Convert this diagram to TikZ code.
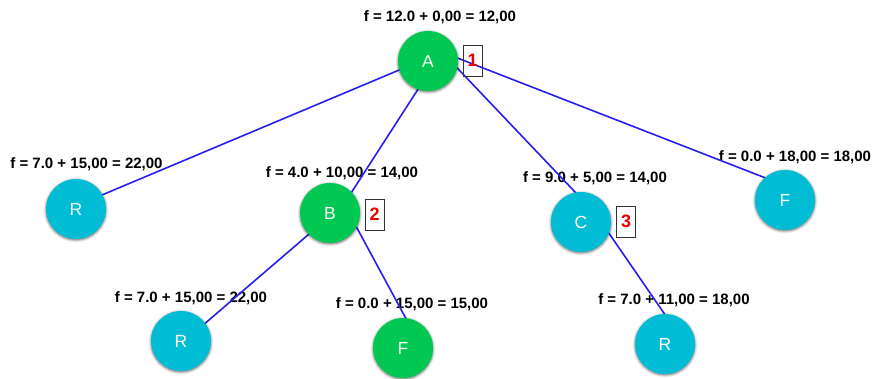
\documentclass[tikz,border=0pt]{standalone}
\usepackage{fontspec}
\setmainfont{Liberation Sans}
\usetikzlibrary{shadows.blur,backgrounds}
\definecolor{ngreen}{HTML}{00C853}
\definecolor{ncyan}{HTML}{00BCD4}
\definecolor{eblue}{RGB}{40,30,240}
\definecolor{nred}{RGB}{235,0,0}
\tikzset{
  statenode/.style={circle, minimum size=60pt, inner sep=0pt, text=white,
    font=\fontsize{17.5}{17.5}\selectfont,
    blur shadow={shadow xshift=0pt, shadow yshift=-1pt, shadow blur radius=2.5pt, shadow opacity=60}},
  gnode/.style={statenode, fill=ngreen},
  cnode/.style={statenode, fill=ncyan},
  flabel/.style={anchor=base, inner sep=0pt, font=\fontsize{15}{15}\selectfont\bfseries},
  edge/.style={draw=eblue, line width=1.6pt},
  orderbox/.style={draw=black!80, line width=0.9pt, minimum width=19pt, minimum height=31pt,
    inner sep=0pt, text=nred, font=\fontsize{18}{18}\selectfont\bfseries},
}
\begin{document}
\begin{tikzpicture}[x=1pt,y=-1pt]
\path[use as bounding box, clip] (0,0) rectangle (872,378);
% state nodes
\node[gnode] (A)  at (428,61)  {A};
\node[cnode] (R1) at (76,209)  {R};
\node[gnode] (B)  at (330,213) {B};
\node[cnode] (C)  at (581,222) {C};
\node[cnode] (F1) at (785,200) {F};
\node[cnode] (R2) at (181,341) {R};
\node[gnode] (F2) at (403,348) {F};
\node[cnode] (R3) at (665,344) {R};
% order boxes
\node[orderbox] (o1) at (472.5,60.5) {1};
\node[orderbox] (o2) at (374.5,214.5) {2};
\node[orderbox] (o3) at (626,221.5) {3};
\begin{pgfonlayer}{background}
% labels
\node[flabel] (lA)  at (440,21.9)  {f = 12.0 + 0,00 = 12,00};
\node[flabel] (lR1) at (86.5,168.9) {f = 7.0 + 15,00 = 22,00};
\node[flabel] (lB)  at (342,177.9) {f = 4.0 + 10,00 = 14,00};
\node[flabel] (lC)  at (595,182.9) {f = 9.0 + 5,00 = 14,00};
\node[flabel] (lF1) at (795,161.4) {f = 0.0 + 18,00 = 18,00};
\node[flabel] (lR2) at (191,302.4) {f = 7.0 + 15,00 = 22,00};
\node[flabel] (lF2) at (412,308.9) {f = 0.0 + 15,00 = 15,00};
\node[flabel] (lR3) at (674,304.4) {f = 7.0 + 11,00 = 18,00};
% edges
\draw[edge] ([shift={(14,-9)}]A.center) -- ([shift={(14,-9)}]R1.center);
\draw[edge] ([shift={(14,-9)}]A.center) -- ([shift={(14,-9)}]B.center);
\draw[edge] ([shift={(14,-9)}]A.center) -- ([shift={(14,-9)}]C.center);
\draw[edge] ([shift={(14,-9)}]A.center) -- ([shift={(14,-9)}]F1.center);
\draw[edge] ([shift={(14,-9)}]B.center) -- ([shift={(14,-9)}]R2.center);
\draw[edge] ([shift={(14,-9)}]B.center) -- ([shift={(14,-9)}]F2.center);
\draw[edge] ([shift={(14,-9)}]C.center) -- ([shift={(14,-9)}]R3.center);
\end{pgfonlayer}
\end{tikzpicture}
\end{document}
